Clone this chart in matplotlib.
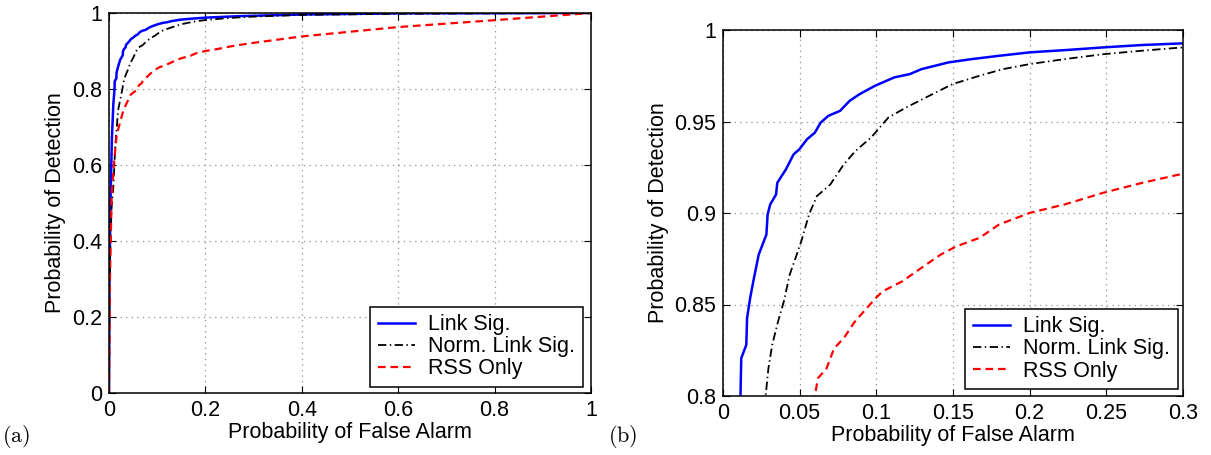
import matplotlib
matplotlib.use("Agg")
from matplotlib import pyplot as plt

plt.rcParams['font.family'] = ['Liberation Sans', 'DejaVu Sans']
plt.rcParams['mathtext.fontset'] = 'cm'
plt.rcParams['lines.scale_dashes'] = False

# ROC curves (false alarm prob, detection prob)
link_fa = [0, 0.001, 0.003, 0.006, 0.009, 0.0114, 0.0119, 0.0152, 0.0157, 0.0177,
           0.0202, 0.0233, 0.0283, 0.0291, 0.0308, 0.0346, 0.0354, 0.041, 0.046,
           0.0498, 0.0548, 0.0599, 0.0637, 0.0687, 0.0763, 0.0826, 0.089, 0.0991,
           0.1117, 0.1218, 0.1294, 0.1471, 0.1623, 0.18, 0.2002, 0.2229, 0.2482,
           0.2735, 0.3, 0.4, 0.6, 0.8, 1.0]
link_pd = [0, 0.3, 0.5, 0.67, 0.76, 0.8, 0.8206, 0.828, 0.8426, 0.8535,
           0.8645, 0.8773, 0.8882, 0.8992, 0.9047, 0.9101, 0.9165, 0.9238, 0.932,
           0.9348, 0.9403, 0.9439, 0.9494, 0.9531, 0.9558, 0.9613, 0.9649, 0.9695,
           0.9741, 0.9759, 0.9786, 0.9823, 0.9841, 0.9859, 0.9878, 0.989, 0.9905,
           0.9918, 0.9927, 0.996, 0.999, 0.9995, 1.0]

norm_fa = [0, 0.001, 0.003, 0.0055, 0.009, 0.013, 0.019, 0.0278, 0.0296, 0.0321,
           0.0359, 0.0397, 0.0435, 0.0473, 0.0511, 0.0561, 0.0612, 0.07, 0.0788,
           0.0864, 0.0965, 0.1079, 0.1193, 0.1344, 0.1496, 0.1673, 0.1825, 0.2002,
           0.2229, 0.2482, 0.2735, 0.3, 0.4, 0.6, 0.8, 1.0]
norm_pd = [0, 0.25, 0.4, 0.49, 0.543, 0.65, 0.745, 0.8, 0.815, 0.828,
           0.8407, 0.8517, 0.8663, 0.8754, 0.8846, 0.8992, 0.9092, 0.9156, 0.9266,
           0.9339, 0.9412, 0.9522, 0.9576, 0.964, 0.9704, 0.975, 0.9786, 0.9814,
           0.9841, 0.9868, 0.9887, 0.9905, 0.995, 0.998, 0.999, 1.0]

rss_fa = [0, 0.002, 0.0055, 0.01, 0.016, 0.03, 0.045, 0.0599, 0.0619, 0.0675,
          0.07, 0.0725, 0.0788, 0.0852, 0.089, 0.0996, 0.1041, 0.1168, 0.1294,
          0.142, 0.1522, 0.1673, 0.18, 0.2002, 0.2229, 0.2482, 0.2735, 0.3,
          0.401, 0.6, 0.799, 1.0]
rss_pd = [0, 0.3, 0.52, 0.6, 0.68, 0.745, 0.785, 0.8, 0.8097, 0.815,
          0.8206, 0.8261, 0.8316, 0.8398, 0.8435, 0.8535, 0.8572, 0.8626, 0.87,
          0.8773, 0.8818, 0.8864, 0.8937, 0.9001, 0.9047, 0.9111, 0.9165, 0.9215,
          0.9385, 0.963, 0.981, 1.0]

labels = ['Link Sig.', 'Norm. Link Sig.', 'RSS Only']

xticks_a = [0, 0.2, 0.4, 0.6, 0.8, 1.0]
xticklabels_a = ['0', '0.2', '0.4', '0.6', '0.8', '1']
yticks_a = [0, 0.2, 0.4, 0.6, 0.8, 1.0]
yticklabels_a = ['0', '0.2', '0.4', '0.6', '0.8', '1']

xticks_b = [0, 0.05, 0.1, 0.15, 0.2, 0.25, 0.3]
xticklabels_b = ['0', '0.05', '0.1', '0.15', '0.2', '0.25', '0.3']
yticks_b = [0.8, 0.85, 0.9, 0.95, 1.0]
yticklabels_b = ['0.8', '0.85', '0.9', '0.95', '1']

FS = 15.5

fig = plt.figure(figsize=(12.11, 4.55), dpi=100)
ax_a = fig.add_axes([109 / 1211, 62 / 455, 482 / 1211, 380 / 455])
ax_b = fig.add_axes([723 / 1211, 59 / 455, 460 / 1211, 366 / 455])


def draw(ax, xlim, ylim, xt, xtl, yt, ytl, leg_anchor):
  ax.plot(link_fa, link_pd, color='#0000ff', lw=1.8, label=labels[0])
  ax.plot(norm_fa, norm_pd, color='black', lw=1.3, dashes=(6, 2.5, 1, 2.5), label=labels[1])
  ax.plot(rss_fa, rss_pd, color='#ff0000', lw=1.6, dashes=(5.5, 3.5), label=labels[2])
  ax.set_xlim(*xlim)
  ax.set_ylim(*ylim)
  ax.set_xticks(xt)
  ax.set_xticklabels(xtl)
  ax.set_yticks(yt)
  ax.set_yticklabels(ytl)
  ax.tick_params(direction='in', top=True, right=True, length=5, width=0.8,
                 labelsize=FS, pad=5)
  ax.grid(True, color='0.6', linestyle=(0, (1, 3)), linewidth=0.9)
  for s in ax.spines.values():
    s.set_linewidth(1.1)
  ax.set_xlabel('Probability of False Alarm', fontsize=FS, labelpad=1)
  ax.set_ylabel('Probability of Detection', fontsize=FS, labelpad=4)
  leg = ax.legend(loc='lower right', bbox_to_anchor=leg_anchor, borderaxespad=0,
                  fontsize=15.5, fancybox=False, framealpha=1, edgecolor='black',
                  handlelength=1.75, handletextpad=0.6, labelspacing=0.05,
                  borderpad=0.35)
  leg.get_frame().set_linewidth(1.1)


draw(ax_a, (0, 1), (0, 1), xticks_a, xticklabels_a, yticks_a, yticklabels_a, (0.983, 0.016))
draw(ax_b, (0, 0.3), (0.8, 1), xticks_b, xticklabels_b, yticks_b, yticklabels_b, (0.989, 0.019))

fig.text(2 / 1211, 1 - 437 / 455, r'$\mathrm{(a)}$', fontsize=16, va='center', ha='left')
fig.text(608 / 1211, 1 - 437 / 455, r'$\mathrm{(b)}$', fontsize=16, va='center', ha='left')

fig.savefig('out.png', dpi=100)
